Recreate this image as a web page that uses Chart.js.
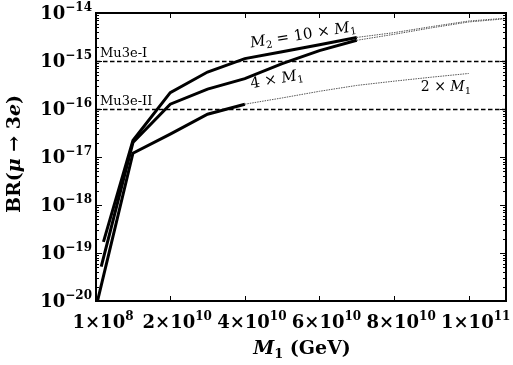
<!DOCTYPE html>
<html>
<head>
<meta charset="utf-8">
<script src="https://cdn.jsdelivr.net/npm/chart.js@4/dist/chart.umd.min.js"></script>
<style>
    body { margin: 0; background: #fff; }
    canvas { display: block; }
</style>
</head>
<body>
<canvas id="br-chart" width="513" height="365"></canvas>
<script>
// values (M1 in GeV, BR dimensionless)
const m1Solid10 = [2.1e9, 1e10, 2e10, 3e10, 4e10, 5e10, 6e10, 7e10];
const brSolid10 = [1.7e-19, 2.2e-17, 2.2e-16, 5.9e-16, 1.12e-15, 1.56e-15, 2.18e-15, 3.1e-15];
const m1Dot10 = [7e10, 8e10, 9e10, 1e11, 1.1e11];
const brDot10 = [3.1e-15, 3.9e-15, 5.2e-15, 6.8e-15, 7.8e-15];

const m1Solid4 = [1.5e9, 1e10, 2e10, 3e10, 4e10, 5e10, 6e10, 7e10];
const brSolid4 = [5.2e-20, 2.0e-17, 1.26e-16, 2.6e-16, 4.3e-16, 8.8e-16, 1.65e-15, 2.7e-15];
const m1Dot4 = [7e10, 8e10, 9e10, 1e11, 1.1e11];
const brDot4 = [2.7e-15, 3.6e-15, 4.9e-15, 6.5e-15, 7.6e-15];

const m1Solid2 = [5e8, 1e10, 2e10, 3e10, 4e10];
const brSolid2 = [1e-20, 1.2e-17, 3.0e-17, 7.8e-17, 1.26e-16];
const m1Dot2 = [4e10, 5e10, 6e10, 7e10, 8e10, 9e10, 1e11];
const brDot2 = [1.26e-16, 1.7e-16, 2.34e-16, 3.1e-16, 3.8e-16, 4.6e-16, 5.5e-16];

const limitNames = ['Mu3e-I', 'Mu3e-II'];
const limitValues = [1e-15, 1e-16];

const xTickValues = [1e8, 2e10, 4e10, 6e10, 8e10, 1e11];
const xTickMant = ['1', '2', '4', '6', '8', '1'];
const xTickExp = ['8', '10', '10', '10', '10', '11'];
const yTickExp = [-20, -19, -18, -17, -16, -15, -14];

const SERIF = '"DejaVu Serif", serif';

function points(xs, ys) {
    return xs.map((x, i) => ({ x: x, y: ys[i] }));
}

function solid(xs, ys) {
    return { data: points(xs, ys), borderColor: '#000', borderWidth: 3, pointRadius: 0, tension: 0 };
}

function dotted(xs, ys) {
    return { data: points(xs, ys), borderColor: '#555', borderWidth: 1, borderDash: [1.5, 1], pointRadius: 0, tension: 0 };
}

// draw a list of text runs [text, font, dy] starting at x
function drawRuns(ctx, runs, x, y, align) {
    let total = 0;
    runs.forEach(r => { ctx.font = r[1]; total += ctx.measureText(r[0]).width; });
    let cx = align === 'center' ? x - total / 2 : (align === 'right' ? x - total : x);
    ctx.textAlign = 'left';
    runs.forEach(r => {
        ctx.font = r[1];
        ctx.fillText(r[0], cx, y + (r[2] || 0));
        cx += ctx.measureText(r[0]).width;
    });
}

const decorations = {
    id: 'decorations',
    beforeDatasetsDraw(chart) {
        const ctx = chart.ctx;
        const a = chart.chartArea;
        const y = chart.scales.y;
        ctx.save();
        ctx.strokeStyle = '#000';
        ctx.lineWidth = 1.5;
        ctx.setLineDash([4.5, 2.5]);
        limitValues.forEach(v => {
            const py = Math.round(y.getPixelForValue(v)) + 0.5;
            ctx.beginPath();
            ctx.moveTo(a.left, py);
            ctx.lineTo(a.right, py);
            ctx.stroke();
        });
        ctx.setLineDash([]);
        ctx.fillStyle = '#000';
        ctx.textBaseline = 'alphabetic';
        limitNames.forEach((name, i) => {
            const py = y.getPixelForValue(limitValues[i]);
            ctx.font = '13px ' + SERIF;
            ctx.textAlign = 'left';
            ctx.fillText(name, a.left + 4, py - 4);
        });
        ctx.restore();
    },
    afterDatasetsDraw(chart) {
        const ctx = chart.ctx;
        const a = chart.chartArea;
        const xs = chart.scales.x;
        const ys = chart.scales.y;
        ctx.save();
        ctx.fillStyle = '#000';
        ctx.strokeStyle = '#000';

        // frame
        ctx.lineWidth = 2;
        ctx.strokeRect(a.left, a.top, a.right - a.left, a.bottom - a.top);

        // inward ticks
        ctx.lineWidth = 1;
        ctx.beginPath();
        xTickValues.slice(1).forEach(v => {
            const px = Math.round(xs.getPixelForValue(v)) + 0.5;
            ctx.moveTo(px, a.bottom); ctx.lineTo(px, a.bottom - 5);
            ctx.moveTo(px, a.top); ctx.lineTo(px, a.top + 5);
        });
        for (let e = -20; e < -14; e++) {
            for (let m = 1; m < 10; m++) {
                const py = Math.round(ys.getPixelForValue(m * Math.pow(10, e))) + 0.5;
                const len = m === 1 ? 6 : 3;
                ctx.moveTo(a.left, py); ctx.lineTo(a.left + len, py);
                ctx.moveTo(a.right, py); ctx.lineTo(a.right - len, py);
            }
        }
        ctx.stroke();

        // y tick labels
        ctx.textBaseline = 'alphabetic';
        yTickExp.forEach(e => {
            const py = ys.getPixelForValue(Math.pow(10, e));
            drawRuns(ctx, [
                ['10', 'bold 18px ' + SERIF, 0],
                ['\u2212' + Math.abs(e), 'bold 12px ' + SERIF, -8]
            ], a.left - 4, py + 6, 'right');
        });

        // x tick labels
        xTickValues.forEach((v, i) => {
            const px = xs.getPixelForValue(v);
            drawRuns(ctx, [
                [xTickMant[i] + '\u00d710', 'bold 18px ' + SERIF, 0],
                [xTickExp[i], 'bold 12px ' + SERIF, -8]
            ], px + 7, a.bottom + 27, 'center');
        });

        // axis titles
        drawRuns(ctx, [
            ['M', 'italic bold 19px ' + SERIF, 0],
            ['1', 'bold 13px ' + SERIF, 4],
            [' (GeV)', 'bold 19px ' + SERIF, 0]
        ], 302, 354, 'center');

        ctx.save();
        ctx.translate(14, 154);
        ctx.rotate(-Math.PI / 2);
        drawRuns(ctx, [
            ['BR(', 'bold 19px ' + SERIF, 0],
            ['\u03bc', 'italic bold 19px ' + SERIF, 0],
            [' \u2192 3', 'bold 19px ' + SERIF, 0],
            ['e', 'italic bold 19px ' + SERIF, 0],
            [')', 'bold 19px ' + SERIF, 0]
        ], 0, 6, 'center');
        ctx.restore();

        // curve labels
        const notes = [
            { x: 5.56e10, y: 3.6e-15, rot: -9, runs: [
                ['M', 'italic 15px ' + SERIF, 0], ['2', '10px ' + SERIF, 3],
                [' = 10 \u00d7 ', '15px ' + SERIF, 0],
                ['M', 'italic 15px ' + SERIF, 0], ['1', '10px ' + SERIF, 3]] },
            { x: 4.85e10, y: 4.3e-16, rot: -10, runs: [
                ['4 \u00d7 ', '15px ' + SERIF, 0],
                ['M', 'italic 15px ' + SERIF, 0], ['1', '10px ' + SERIF, 3]] },
            { x: 9.39e10, y: 3.0e-16, rot: 0, runs: [
                ['2 \u00d7 ', '14px ' + SERIF, 0],
                ['M', 'italic 14px ' + SERIF, 0], ['1', '10px ' + SERIF, 3]] }
        ];
        notes.forEach(n => {
            ctx.save();
            ctx.translate(xs.getPixelForValue(n.x), ys.getPixelForValue(n.y));
            ctx.rotate(n.rot * Math.PI / 180);
            drawRuns(ctx, n.runs, 0, 5, 'center');
            ctx.restore();
        });
        ctx.restore();
    }
};

new Chart(document.getElementById('br-chart'), {
    type: 'line',
    data: {
        datasets: [
            dotted(m1Dot10, brDot10),
            dotted(m1Dot4, brDot4),
            dotted(m1Dot2, brDot2),
            solid(m1Solid10, brSolid10),
            solid(m1Solid4, brSolid4),
            solid(m1Solid2, brSolid2)
        ]
    },
    options: {
        responsive: false,
        animation: false,
        devicePixelRatio: 1,
        layout: { padding: { top: 13, right: 7, left: 0, bottom: 0 } },
        plugins: { legend: { display: false }, tooltip: { enabled: false } },
        scales: {
            x: {
                type: 'linear',
                min: 1e8,
                max: 1.1e11,
                grid: { display: false },
                border: { display: false },
                ticks: { display: false },
                afterFit(scale) { scale.height = 64; }
            },
            y: {
                type: 'logarithmic',
                min: 1e-20,
                max: 1e-14,
                grid: { display: false },
                border: { display: false },
                ticks: { display: false },
                afterFit(scale) { scale.width = 96; }
            }
        }
    },
    plugins: [decorations]
});
</script>
</body>
</html>
